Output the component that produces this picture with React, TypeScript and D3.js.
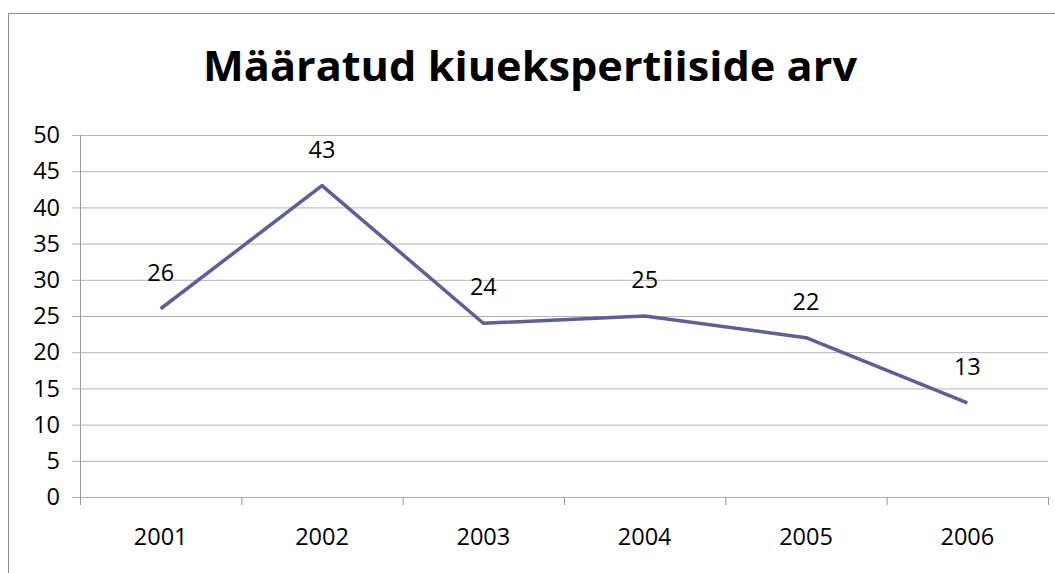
import React from 'react';
import * as d3 from 'd3';

const years = ['2001', '2002', '2003', '2004', '2005', '2006'];
const values = [26, 43, 24, 25, 22, 13];
const yTicks = [0, 5, 10, 15, 20, 25, 30, 35, 40, 45, 50];
const title = 'Määratud kiuekspertiiside arv';

const width = 1055;
const height = 573;
const left = 80;
const right = 1048;
const top = 135;
const bottom = 497;
const font = "'Open Sans', 'DejaVu Sans', sans-serif";

export default function App() {
  const x = d3.scaleBand().domain(years).range([left, right]);
  const y = d3.scaleLinear().domain([0, 50]).range([bottom, top]);
  const cx = (d: string) => (x(d) as number) + x.bandwidth() / 2;

  const line = d3
    .line<number>()
    .x((d, i) => cx(years[i]))
    .y((d) => y(d));

  const catTicks = years.map((d) => x(d) as number).concat([right]);

  return (
    <svg width={width} height={height} style={{ position: 'absolute', left: 0, top: 0 }}>
      <rect width={width} height={height} fill="#fff" />
      {/* outer frame */}
      <line x1={8.5} x2={width} y1={13.5} y2={13.5} stroke="#8c8c8c" />
      <line x1={8.5} x2={8.5} y1={13.5} y2={height} stroke="#8c8c8c" />

      <text
        x={530}
        y={81}
        textAnchor="middle"
        fontFamily={font}
        fontWeight="bold"
        fontSize={41}
        textLength={654}
        lengthAdjust="spacingAndGlyphs"
      >
        {title}
      </text>

      {/* gridlines */}
      {yTicks.map((t) => (
        <line key={t} x1={left - 8} x2={right} y1={y(t) + 0.5} y2={y(t) + 0.5} stroke="#b3b3b3" />
      ))}
      <line x1={left + 0.5} x2={left + 0.5} y1={top} y2={bottom + 8} stroke="#999" />
      {catTicks.map((t, i) => (
        <line key={i} x1={t + 0.5} x2={t + 0.5} y1={bottom} y2={bottom + 8} stroke="#999" />
      ))}

      {yTicks.map((t) => (
        <text key={t} x={left - 20} y={y(t)} dy="0.35em" textAnchor="end" fontFamily={font} fontSize={23.5} fill="#000">
          {t}
        </text>
      ))}
      {years.map((d) => (
        <text key={d} x={cx(d)} y={545} textAnchor="middle" fontFamily={font} fontSize={23.5} fill="#000">
          {d}
        </text>
      ))}

      <path d={line(values) as string} fill="none" stroke="#5e5e98" strokeWidth={3.5} strokeLinejoin="round" />

      {values.map((v, i) => (
        <text key={i} x={cx(years[i])} y={y(v) - 28} textAnchor="middle" fontFamily={font} fontSize={23.5} fill="#000">
          {v}
        </text>
      ))}
    </svg>
  );
}
